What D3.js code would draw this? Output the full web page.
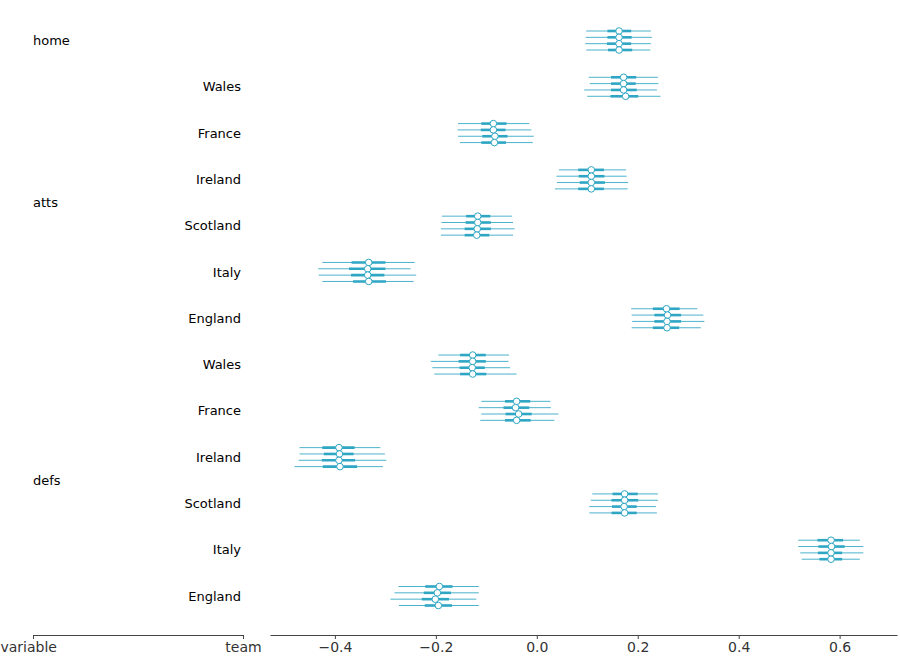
<!DOCTYPE html>
<html><head><meta charset="utf-8">
<script src="https://cdn.jsdelivr.net/npm/d3@7"></script>
<style>body{margin:0;background:#fff}text{font-family:"DejaVu Sans",sans-serif}</style>
</head><body><div id="chart"></div>
<script>
$ = null;
(function () {
  // rows: variable, team, chains: [mean, hdi94 lo, hdi94 hi, hdi50 lo, hdi50 hi]
  var rows = [
    {v: "home", t: "", c: [[0.163,0.098,0.226,0.140,0.187],[0.163,0.097,0.228,0.140,0.188],[0.163,0.096,0.226,0.139,0.187],[0.163,0.098,0.225,0.141,0.189]]},
    {v: "", t: "Wales", c: [[0.172,0.103,0.240,0.147,0.197],[0.172,0.105,0.241,0.147,0.196],[0.172,0.094,0.238,0.147,0.198],[0.176,0.100,0.245,0.146,0.201]]},
    {v: "", t: "France", c: [[-0.086,-0.156,-0.015,-0.110,-0.060],[-0.086,-0.157,-0.011,-0.111,-0.062],[-0.083,-0.156,-0.006,-0.108,-0.058],[-0.084,-0.152,-0.008,-0.110,-0.061]]},
    {v: "", t: "Ireland", c: [[0.108,0.044,0.177,0.082,0.133],[0.108,0.039,0.178,0.083,0.134],[0.108,0.040,0.181,0.085,0.135],[0.108,0.036,0.180,0.082,0.133]]},
    {v: "atts", t: "Scotland", c: [[-0.117,-0.188,-0.049,-0.140,-0.092],[-0.117,-0.189,-0.047,-0.141,-0.091],[-0.118,-0.190,-0.044,-0.143,-0.091],[-0.119,-0.190,-0.047,-0.143,-0.094]]},
    {v: "", t: "Italy", c: [[-0.333,-0.425,-0.242,-0.367,-0.300],[-0.335,-0.433,-0.250,-0.372,-0.300],[-0.335,-0.432,-0.239,-0.368,-0.302],[-0.333,-0.425,-0.244,-0.364,-0.299]]},
    {v: "", t: "England", c: [[0.257,0.187,0.318,0.230,0.283],[0.259,0.188,0.330,0.233,0.286],[0.258,0.189,0.332,0.233,0.286],[0.258,0.188,0.325,0.230,0.282]]},
    {v: "", t: "Wales", c: [[-0.127,-0.195,-0.055,-0.152,-0.101],[-0.127,-0.210,-0.056,-0.155,-0.101],[-0.128,-0.207,-0.053,-0.153,-0.103],[-0.127,-0.203,-0.040,-0.152,-0.100]]},
    {v: "", t: "France", c: [[-0.040,-0.110,0.027,-0.063,-0.013],[-0.042,-0.115,0.028,-0.066,-0.015],[-0.036,-0.110,0.043,-0.062,-0.010],[-0.040,-0.112,0.035,-0.063,-0.012]]},
    {v: "", t: "Ireland", c: [[-0.392,-0.470,-0.310,-0.425,-0.361],[-0.391,-0.470,-0.301,-0.422,-0.363],[-0.392,-0.472,-0.298,-0.426,-0.360],[-0.390,-0.480,-0.305,-0.424,-0.356]]},
    {v: "defs", t: "Scotland", c: [[0.174,0.110,0.240,0.150,0.200],[0.174,0.107,0.240,0.148,0.201],[0.173,0.104,0.236,0.149,0.198],[0.174,0.104,0.238,0.148,0.198]]},
    {v: "", t: "Italy", c: [[0.583,0.518,0.640,0.556,0.607],[0.584,0.518,0.647,0.558,0.610],[0.583,0.522,0.647,0.557,0.605],[0.583,0.525,0.640,0.560,0.605]]},
    {v: "", t: "England", c: [[-0.193,-0.274,-0.115,-0.221,-0.167],[-0.197,-0.282,-0.115,-0.224,-0.170],[-0.201,-0.290,-0.120,-0.228,-0.174],[-0.195,-0.273,-0.115,-0.222,-0.168]]}
  ];
  var labelRow = {"home": 0, "atts": 3.5, "defs": 9.5};

  var W = 900, H = 660, color = "#2ea6c4";
  var svg = d3.select("#chart").append("svg").attr("width", W).attr("height", H);

  var x = d3.scaleLinear().domain([-0.5286, 0.7137]).range([270, 897]);
  var yRow = d3.scaleLinear().domain([0, 12]).range([40.5, 596]);
  var yChain = d3.scaleLinear().domain([0, 3]).range([-9.5, 9.5]);

  var g = svg.append("g");
  rows.forEach(function (r, i) {
    r.c.forEach(function (c, j) {
      var yy = yRow(i) + yChain(j);
      g.append("line").attr("x1", x(c[1])).attr("x2", x(c[2])).attr("y1", yy).attr("y2", yy)
        .attr("stroke", color).attr("stroke-width", 1).attr("opacity", 0.85);
      g.append("line").attr("x1", x(c[3])).attr("x2", x(c[4])).attr("y1", yy).attr("y2", yy)
        .attr("stroke", color).attr("stroke-width", 2.6);
    });
    r.c.forEach(function (c, j) {
      g.append("circle").attr("cx", x(c[0])).attr("cy", yRow(i) + yChain(j)).attr("r", 3.3)
        .attr("fill", "#fff").attr("stroke", color).attr("stroke-width", 1);
    });
    if (r.t) svg.append("text").attr("x", 241).attr("y", yRow(i)).attr("dy", "0.35em")
      .attr("text-anchor", "end").attr("font-size", 13).text(r.t);
  });
  Object.keys(labelRow).forEach(function (k) {
    svg.append("text").attr("x", 33).attr("y", yRow(labelRow[k])).attr("dy", "0.35em")
      .attr("font-size", 13).text(k);
  });

  var ax = svg.append("g").attr("transform", "translate(0,635)")
    .call(d3.axisBottom(x).tickValues([-0.4, -0.2, 0, 0.2, 0.4, 0.6]).tickFormat(d3.format(".1f")).tickSize(4).tickSizeOuter(0));
  ax.select(".domain").attr("stroke", "#444");
  ax.selectAll("line").attr("stroke", "#444");
  ax.selectAll("text").attr("font-size", 14).attr("fill", "#333").attr("font-family", "DejaVu Sans");

  var lx = d3.scaleLinear().domain([0, 1]).range([33, 243]);
  var la = svg.append("g").attr("transform", "translate(0,635)")
    .call(d3.axisBottom(lx).tickValues([0, 1]).tickFormat(function (d) { return d ? "team" : "variable"; }).tickSize(4).tickSizeOuter(0));
  la.select(".domain").attr("stroke", "#444");
  la.selectAll("line").attr("stroke", "#444");
  la.selectAll("text").attr("font-size", 14).attr("fill", "#333").attr("font-family", "DejaVu Sans");
  la.selectAll(".tick text").attr("text-anchor", function (d) { return d ? "middle" : "start"; })
    .attr("dx", function (d) { return d ? "0" : "-33"; });
})();
</script></body></html>
